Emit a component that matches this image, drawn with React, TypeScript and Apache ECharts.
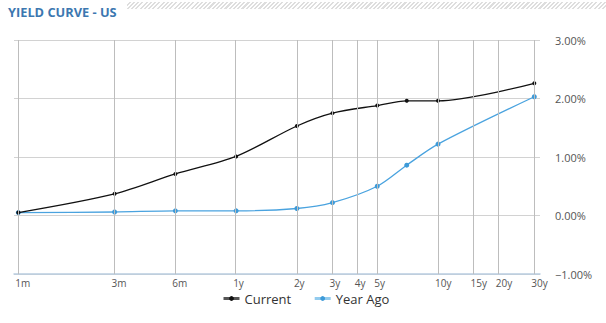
import React, { useEffect, useRef } from "react";
import * as echarts from "echarts";

const tenorLabels = ["1m", "3m", "6m", "1y", "2y", "3y", "4y", "5y", "10y", "15y", "20y", "30y"];
const tenorMonths = [1, 3, 6, 12, 24, 36, 48, 60, 120, 180, 240, 360];
const pointMonths = [1, 3, 6, 12, 24, 36, 60, 84, 120, 360];
const currentYields = [0.05, 0.37, 0.71, 1.01, 1.53, 1.75, 1.88, 1.96, 1.96, 2.26];
const yearAgoYields = [0.05, 0.06, 0.08, 0.08, 0.12, 0.22, 0.5, 0.86, 1.22, 2.03];
const yMin = -1;
const yMax = 3;
const yInterval = 1;

const FONT = "'Open Sans', sans-serif";

export default function App() {
  const ref = useRef<HTMLDivElement>(null);

  useEffect(() => {
    document.body.style.margin = "0";
    if (!ref.current) return;
    const chart = echarts.init(ref.current, undefined, { renderer: "svg" });
    const tickVals = tenorMonths.map((m) => Math.log(m));
    const labelFor = (v: number) => {
      let best = 0;
      let bd = Infinity;
      tickVals.forEach((t, i) => {
        const d = Math.abs(t - v);
        if (d < bd) {
          bd = d;
          best = i;
        }
      });
      return tenorLabels[best];
    };
    const span = Math.log(tenorMonths[tenorMonths.length - 1]);
    chart.setOption({
      animation: false,
      title: {
        text: "YIELD CURVE - US",
        left: 3,
        top: 0,
        textStyle: { fontFamily: FONT, fontSize: 12.8, fontWeight: "bold", color: "#3c77b0" },
      },
      legend: {
        data: [
          { name: "Current", itemStyle: { color: "#111" }, lineStyle: { color: "#555", width: 3 } },
          { name: "Year Ago", itemStyle: { color: "#3d9ad8" }, lineStyle: { color: "#92cbee", width: 3 } },
        ],
        left: 217,
        top: 287,
        itemWidth: 16,
        itemHeight: 6,
        itemGap: 22,
        textStyle: { fontFamily: FONT, fontSize: 13, color: "#333" },
      },
      grid: { left: 14, right: 66, top: 40, bottom: 49, containLabel: false },
      xAxis: {
        type: "value",
        min: -0.049,
        max: span + 0.065,
        axisLine: { show: true, onZero: false, lineStyle: { color: "#b9cde0", width: 1.5 } },
        axisTick: { show: false },
        splitLine: { show: false },
        axisLabel: {
          customValues: tickVals,
          formatter: (v: number) => labelFor(v),
          align: "left",
          margin: 4,
          padding: [0, 0, 0, -3],
          fontFamily: FONT,
          fontSize: 10,
          color: "#555",
        },
      },
      yAxis: {
        type: "value",
        position: "right",
        min: yMin,
        max: yMax,
        interval: yInterval,
        axisLine: { show: false },
        axisTick: { show: false },
        splitLine: { show: true, lineStyle: { color: "#d2d2d2", width: 1 } },
        axisLabel: {
          margin: 15,
          align: "left",
          fontFamily: FONT,
          fontSize: 11,
          color: "#555",
          formatter: (v: number) => (v < 0 ? "\u2212" + Math.abs(v).toFixed(2) : v.toFixed(2)) + "%",
        },
      },
      series: [
        {
          name: "grid-verticals",
          type: "line",
          data: [],
          z: 1,
          silent: true,
          markLine: {
            silent: true,
            symbol: "none",
            label: { show: false },
            lineStyle: { color: "#bdbdbd", type: "solid", width: 1 },
            data: tickVals.map((v) => ({ xAxis: v })),
          },
        },
        {
          name: "Current",
          type: "line",
          smooth: 0.3,
          z: 3,
          data: pointMonths.map((m, i) => [Math.log(m), currentYields[i]]),
          symbol: "circle",
          symbolSize: 4,
          itemStyle: { color: "#111" },
          lineStyle: { color: "#111", width: 1.3 },
        },
        {
          name: "Year Ago",
          type: "line",
          smooth: 0.3,
          z: 2,
          data: pointMonths.map((m, i) => [Math.log(m), yearAgoYields[i]]),
          symbol: "circle",
          symbolSize: 5,
          itemStyle: { color: "#3d9ad8" },
          lineStyle: { color: "#4aa3df", width: 1.3 },
        },
      ],
    });
    return () => chart.dispose();
  }, []);

  return (
    <div style={{ position: "relative", width: 606, height: 323, background: "#fff" }}>
      <div
        style={{
          position: "absolute",
          left: 127,
          top: 2,
          width: 479,
          height: 7,
          background:
            "repeating-linear-gradient(135deg, #ffffff 0px, #ffffff 1.5px, #dedede 1.5px, #dedede 3px)",
        }}
      />
      <div ref={ref} style={{ position: "absolute", left: 0, top: 0, width: 606, height: 323 }} />
    </div>
  );
}
